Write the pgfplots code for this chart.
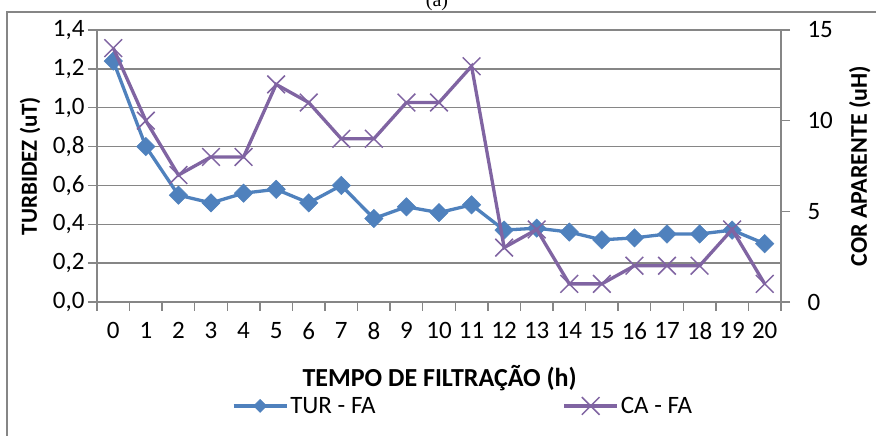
\documentclass[border=0pt]{standalone}
\usepackage{pgfplots}
\pgfplotsset{compat=1.18}
\usepackage{fontspec}
\setmainfont{Carlito}
\newfontfamily\seriffont{Liberation Serif}
\definecolor{turblue}{HTML}{4F81BD}
\definecolor{capurple}{HTML}{8064A2}
\definecolor{gridgray}{HTML}{868686}
\pgfplotsset{
  turstyle/.style={color=turblue, line width=3.3pt, mark=square*, mark size=6.5pt,
     mark options={rotate=45, line width=0.5pt, fill=turblue}},
  castyle/.style={color=capurple, line width=3.3pt, mark=x, mark size=12.5pt,
     mark options={line width=1.5pt}},
}
\begin{document}
\begin{tikzpicture}[x=1pt,y=1pt]
\clip (0,0) rectangle (876,436);
\fill[white] (0,0) rectangle (876,436);
\draw[gridgray, line width=2.5pt] (7,-5) -- (7,424) -- (885,424);
\node[anchor=base, font=\seriffont\fontsize{20}{22}\selectfont] at (437,429) {(a)};
\begin{axis}[
  at={(97pt,134pt)}, anchor=south west,
  scale only axis, width=684pt, height=272pt,
  xmin=-0.5, xmax=20.5, ymin=0, ymax=1.4,
  axis x line*=bottom, axis y line*=left,
  axis line style={gridgray, line width=1.3pt, -},
  xtick={0,...,20},
  minor xtick={-0.5,0.5,...,20.5},
  major x tick style={draw=none},
  minor tick length=9pt, major tick length=9pt,
  tick align=outside,
  tick style={gridgray, line width=1.3pt},
  ytick={0,0.2,0.4,0.6,0.8,1.0,1.2,1.4},
  ymajorgrids, grid style={gridgray, line width=1.3pt},
  /pgf/number format/assume math mode=true,
  yticklabel style={/pgf/number format/.cd, fixed, fixed zerofill, precision=1, use comma},
  ticklabel style={font=\fontsize{25}{30}\selectfont},
  xticklabel style={yshift=-8pt},
  xlabel={TEMPO DE FILTRAÇÃO (h)},
  ylabel={TURBIDEZ (uT)},
  every axis x label/.style={at={(axis description cs:0.501,-0.279)}, anchor=center,
     font=\bfseries\fontsize{26}{30}\selectfont},
  every axis y label/.style={at={(axis description cs:-0.098,0.5)}, rotate=90, anchor=center,
     font=\bfseries\fontsize{23}{30}\selectfont},
  clip=false,
]
\addplot[turstyle] coordinates {
(0,1.24) (1,0.80) (2,0.55) (3,0.51) (4,0.56) (5,0.58) (6,0.51) (7,0.60)
(8,0.43) (9,0.49) (10,0.46) (11,0.50) (12,0.37) (13,0.38) (14,0.36)
(15,0.32) (16,0.33) (17,0.35) (18,0.35) (19,0.37) (20,0.30)};
\end{axis}
\begin{axis}[
  at={(97pt,134pt)}, anchor=south west,
  scale only axis, width=684pt, height=272pt,
  xmin=-0.5, xmax=20.5, ymin=0, ymax=15,
  axis x line=none, axis y line*=right,
  axis line style={gridgray, line width=1.3pt, -},
  ytick={0,5,10,15},
  major tick length=9pt, tick align=outside,
  tick style={gridgray, line width=1.3pt},
  /pgf/number format/assume math mode=true,
  ticklabel style={font=\fontsize{25}{30}\selectfont},
  yticklabel style={xshift=14pt},
  ylabel={COR APARENTE (uH)},
  every axis y label/.style={at={(axis description cs:1.115,0.5)}, rotate=90, anchor=center,
     inner sep=1pt, font=\bfseries\fontsize{24}{28}\selectfont},
  legend columns=2,
  legend style={at={(axis description cs:0.197,-0.382)}, anchor=west, draw=none, fill=none,
    inner sep=0pt, font=\fontsize{25}{30}\selectfont,
    /tikz/every even column/.append style={column sep=185pt}},
  legend image code/.code={\draw[mark repeat=2,mark phase=2,#1] plot coordinates {(0pt,0pt) (26.5pt,0pt) (53pt,0pt)};},
  clip=false,
]
\addlegendimage{turstyle, mark size=4.6pt}
\addlegendentry{TUR - FA}
\addplot[castyle] coordinates {
(0,14) (1,10) (2,7) (3,8) (4,8) (5,12) (6,11) (7,9) (8,9) (9,11) (10,11)
(11,13) (12,3) (13,4) (14,1) (15,1) (16,2) (17,2) (18,2) (19,4) (20,1)};
\addlegendentry{CA - FA}
\end{axis}
\end{tikzpicture}
\end{document}
